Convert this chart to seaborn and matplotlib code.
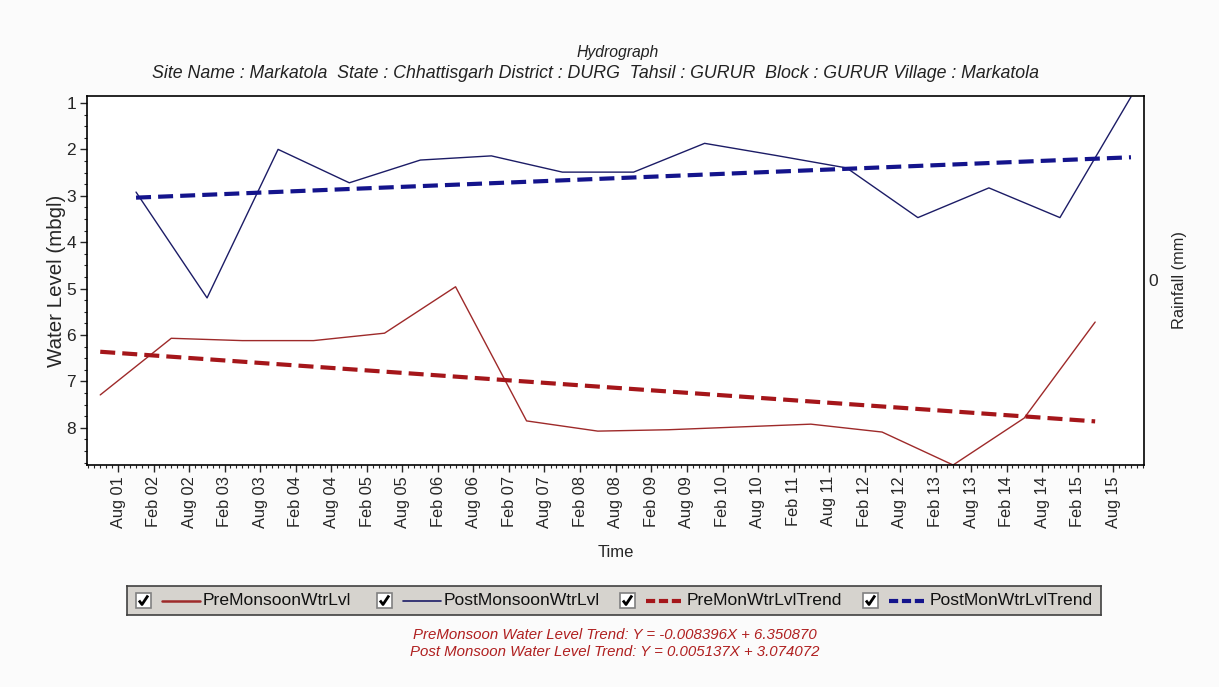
import matplotlib
matplotlib.use("Agg")
import matplotlib.pyplot as plt
import matplotlib.dates as mdates
from matplotlib.ticker import MultipleLocator
from matplotlib.patches import Rectangle
from matplotlib.lines import Line2D
import pandas as pd
import seaborn as sns

# ---------------- data ----------------
pre_dates = ["2001-05-01", "2002-05-01", "2003-05-01", "2004-05-01", "2005-05-01",
             "2006-05-01", "2007-05-01", "2008-05-01", "2009-05-01", "2010-05-01",
             "2011-05-01", "2012-05-01", "2013-05-01", "2014-05-01", "2015-05-01"]
pre_level = [7.29, 6.07, 6.12, 6.12, 5.96, 4.96, 7.85, 8.07, 8.04, 7.98,
             7.92, 8.09, 8.80, 7.79, 5.72]

post_dates = ["2001-11-01", "2002-11-01", "2003-11-01", "2004-11-01", "2005-11-01",
              "2006-11-01", "2007-11-01", "2008-11-01", "2009-11-01", "2010-11-01",
              "2011-11-01", "2012-11-01", "2013-11-01", "2014-11-01", "2015-11-01"]
post_level = [2.92, 5.20, 2.00, 2.72, 2.23, 2.14, 2.49, 2.49, 1.87, 2.13,
              2.40, 3.47, 2.83, 3.47, 0.87]

pre_trend_dates = ["2001-05-01", "2015-05-01"]
pre_trend_level = [6.36, 7.86]
post_trend_dates = ["2001-11-01", "2015-11-01"]
post_trend_level = [3.04, 2.17]

series_labels = ["PreMonsoonWtrLvl", "PostMonsoonWtrLvl",
                 "PreMonWtrLvlTrend", "PostMonWtrLvlTrend"]
title = "Hydrograph"
subtitle = ("Site Name : Markatola  State : Chhattisgarh District : DURG  "
            "Tahsil : GURUR  Block : GURUR Village : Markatola")
trend_texts = ["PreMonsoon Water Level Trend: Y = -0.008396X + 6.350870",
               "Post Monsoon Water Level Trend: Y = 0.005137X + 3.074072"]

# ---------------- styling ----------------
sns.set_style("ticks")
plt.rcParams["font.family"] = ["Liberation Sans", "DejaVu Sans"]

PRE_C = "#9e2a2a"
POST_C = "#1c1c66"
PRE_T = "#a5161a"
POST_T = "#14148c"

W, H = 1219, 687
fig = plt.figure(figsize=(W / 100, H / 100), dpi=100)
fig.patch.set_facecolor("#fbfbfb")

L, R, T, B = 87, 1144, 96, 465
ax = fig.add_axes([L / W, 1 - B / H, (R - L) / W, (B - T) / H])
ax.set_facecolor("white")

pre_df = pd.DataFrame({"date": pd.to_datetime(pre_dates), "level": pre_level})
post_df = pd.DataFrame({"date": pd.to_datetime(post_dates), "level": post_level})
pre_t_df = pd.DataFrame({"date": pd.to_datetime(pre_trend_dates), "level": pre_trend_level})
post_t_df = pd.DataFrame({"date": pd.to_datetime(post_trend_dates), "level": post_trend_level})

sns.lineplot(data=pre_df, x="date", y="level", ax=ax, color=PRE_C, lw=1.0)
sns.lineplot(data=post_df, x="date", y="level", ax=ax, color=POST_C, lw=1.0)
sns.lineplot(data=pre_t_df, x="date", y="level", ax=ax, color=PRE_T, lw=3.0,
             dashes=False).lines[-1].set_dashes((3.6, 1.7))
sns.lineplot(data=post_t_df, x="date", y="level", ax=ax, color=POST_T, lw=3.0,
             dashes=False).lines[-1].set_dashes((3.6, 1.7))

ax.set_ylim(8.8, 0.85)
ax.set_xlim(pd.Timestamp("2001-02-22"), pd.Timestamp("2016-01-07"))
ax.yaxis.set_major_locator(MultipleLocator(1))
ax.yaxis.set_minor_locator(MultipleLocator(0.25))
ax.xaxis.set_major_locator(mdates.MonthLocator(bymonth=[2, 8]))
ax.xaxis.set_minor_locator(mdates.MonthLocator())
ax.xaxis.set_major_formatter(mdates.DateFormatter("%b %y"))
ax.tick_params(axis="x", which="major", labelsize=11.8, rotation=90, length=5,
               width=1, direction="out", pad=3)
ax.tick_params(axis="x", which="minor", length=2.5, width=0.8, direction="out")
ax.tick_params(axis="y", which="major", labelsize=12.5, length=5, width=1, pad=3)
ax.tick_params(axis="y", which="minor", length=2.5, width=0.8)
for s in ax.spines.values():
    s.set_color("black")
    s.set_linewidth(1.2)
ax.set_xlabel("Time", fontsize=12, labelpad=12)
ax.set_ylabel("Water Level (mbgl)", fontsize=14.8, labelpad=0)
ax.grid(False)

ax2 = ax.twinx()
ax2.set_ylim(-1, 1)
ax2.set_yticks([0])
ax2.tick_params(axis="y", labelsize=12.5, length=0, pad=3)
ax2.set_ylabel("Rainfall (mm)", fontsize=11.8, labelpad=10)
for s in ax2.spines.values():
    s.set_visible(False)

fig.text(618 / W, 1 - 52 / H, title, ha="center", va="center",
         fontsize=11.3, style="italic", color="#222222")
fig.text(596 / W, 1 - 73 / H, subtitle, ha="center", va="center",
         fontsize=12.8, style="italic", color="#222222")

# ---------------- legend box ----------------
lx0, lx1, ly0, ly1 = 127, 1101, 586, 615
lax = fig.add_axes([lx0 / W, 1 - ly1 / H, (lx1 - lx0) / W, (ly1 - ly0) / H])
lax.set_xlim(lx0, lx1)
lax.set_ylim(ly1, ly0)
lax.set_facecolor("#d6d3ce")
lax.set_xticks([])
lax.set_yticks([])
for s in lax.spines.values():
    s.set_color("#404040")
    s.set_linewidth(1.2)

cb_x = [136, 377, 620, 863]
styles = [(PRE_C, 1.8, None), (POST_C, 1.2, None),
          (PRE_T, 3.0, (2.2, 0.9)), (POST_T, 3.0, (2.2, 0.9))]
for x, lab, (c, lw, dash) in zip(cb_x, series_labels, styles):
    cy = 600.5
    lax.add_patch(Rectangle((x, cy - 7.5), 15, 15, facecolor="white",
                            edgecolor="#808080", lw=1.2))
    lax.add_line(Line2D([x + 3, x + 6, x + 12], [cy, cy + 4, cy - 5],
                        color="black", lw=2.0, solid_capstyle="butt"))
    ln = Line2D([x + 26, x + 64], [cy, cy], color=c, lw=lw)
    if dash is not None:
        ln.set_dashes(dash)
    lax.add_line(ln)
    lax.text(x + 67, cy, lab, ha="left", va="center", fontsize=12.6,
             color="#111111")

fig.text(615 / W, 1 - 635 / H, trend_texts[0], ha="center", va="center",
         fontsize=10.8, style="italic", color="#b02020")
fig.text(615 / W, 1 - 652 / H, trend_texts[1], ha="center", va="center",
         fontsize=10.8, style="italic", color="#b02020")

fig.savefig("out.png", dpi=100, facecolor=fig.get_facecolor())
